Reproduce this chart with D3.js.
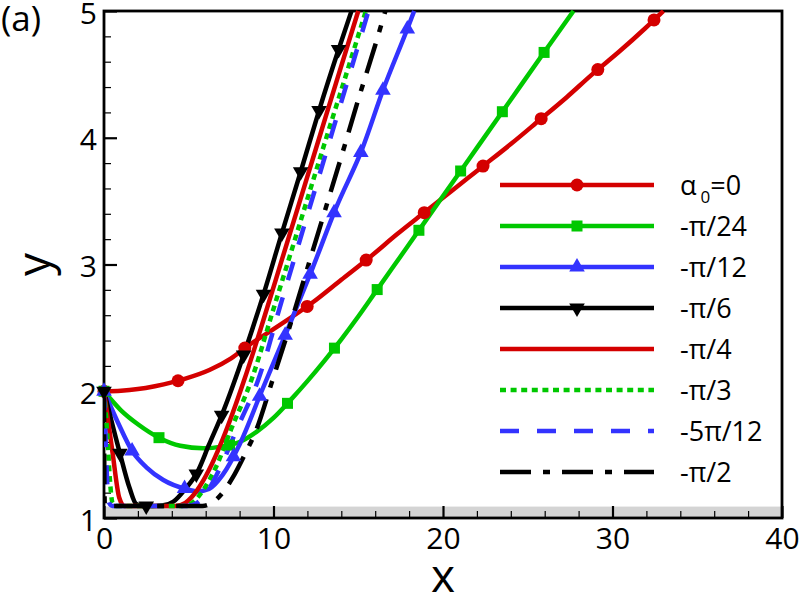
<!DOCTYPE html>
<html><head><meta charset="utf-8">
<script src="https://cdn.jsdelivr.net/npm/d3@7"></script>
<style>
body{margin:0;background:#fff}
svg{display:block}
text{font-family:"Open Sans",sans-serif;fill:#000}
</style>
</head><body>
<svg id="c" width="800" height="597"></svg>
<script>
// ---------- data ----------
const legendLabels = ["α0=0", "-π/24", "-π/12", "-π/6", "-π/4", "-π/3", "-5π/12", "-π/2"];
const xMajorTicks = [0, 10, 20, 30, 40];
const yMajorTicks = [1, 2, 3, 4, 5];
const xMinorTicks = [2, 4, 6, 8, 12, 14, 16, 18, 22, 24, 26, 28, 32, 34, 36, 38];
const yMinorTicks = [1.2, 1.4, 1.6, 1.8, 2.2, 2.4, 2.6, 2.8, 3.2, 3.4, 3.6, 3.8, 4.2, 4.4, 4.6, 4.8];
const wallBand = [1, 1.09];

const alpha0 = [[0,2.0],[1,2.004],[2,2.017],[3,2.04],[4,2.07],[4.8,2.10],[6.25,2.17],[7.5,2.26],[8.5,2.36],[10,2.49],[12.3,2.70],[14,2.88],[15.7,3.06],[17.3,3.24],[18.9,3.41],[20.6,3.59],[22.3,3.77],[24,3.95],[25.7,4.14],[27.3,4.32],[28.8,4.50],[30.4,4.68],[31.9,4.86],[33.0,5.0]];
const alphaPi24 = [[0,2.0],[1,1.85],[2,1.74],[3.3,1.63],[4.5,1.57],[5.85,1.55],[7,1.565],[8,1.60],[9,1.68],[10,1.79],[11,1.93],[12,2.08],[13,2.24],[14,2.41],[15,2.59],[16,2.78],[17,2.97],[18,3.16],[19,3.35],[20,3.54],[22,3.92],[24,4.30],[26,4.68],[27.7,5.0]];
const alphaPi12 = [[0,2.0],[0.8,1.76],[1.7,1.52],[2.5,1.40],[3.5,1.30],[4.8,1.23],[5.5,1.21],[6.2,1.23],[7,1.34],[8,1.58],[9.3,2.0],[10.9,2.51],[12.3,2.97],[13.7,3.45],[15.2,3.90],[16.5,4.39],[17.9,4.86],[18.3,5.0]];
const alphaPi6 = [[0,2.0],[0.94,1.51],[1.5,1.24],[1.9,1.11],[2.3,1.095],[3,1.095],[3.5,1.1],[4.1,1.13],[4.8,1.23],[5.5,1.36],[6.2,1.58],[7.0,1.83],[8.3,2.31],[9.4,2.76],[10.5,3.25],[11.6,3.73],[12.7,4.22],[13.8,4.68],[14.6,5.0]];
const alphaPi4 = [[0,2.0],[0.5,1.52],[0.9,1.16],[1.2,1.095],[4.2,1.095],[4.8,1.12],[5.5,1.22],[6.2,1.38],[7,1.62],[8.3,2.10],[9.4,2.56],[10.5,3.04],[11.6,3.52],[12.7,4.0],[13.8,4.48],[15.0,5.0]];
const alphaPi3 = [[0,2.0],[0.2,1.65],[0.35,1.3],[0.5,1.12],[0.7,1.095],[4.6,1.095],[5.2,1.12],[5.9,1.23],[6.6,1.40],[7.5,1.70],[8.7,2.09],[10,2.65],[11.5,3.3],[13,3.95],[14.5,4.59],[15.45,5.0]];
const alpha5Pi12 = [[0,2.0],[0.1,1.6],[0.2,1.25],[0.3,1.12],[0.5,1.095],[4.9,1.095],[5.5,1.12],[6.2,1.23],[6.9,1.41],[7.9,1.72],[9.1,2.09],[10.5,2.72],[12,3.39],[13.5,4.06],[15,4.73],[15.6,5.0]];
const alphaPi2 = [[0,2.0],[0.02,1.3],[0.05,1.095],[1,1.095],[5.8,1.095],[6.25,1.11],[7,1.2],[7.6,1.32],[8.3,1.50],[9.0,1.70],[9.9,2.07],[11,2.53],[12,2.97],[13,3.41],[14,3.85],[15,4.3],[16,4.73],[16.6,5.0]];

const seriesData = [alpha0, alphaPi24, alphaPi12, alphaPi6, alphaPi4, alphaPi3, alpha5Pi12, alphaPi2];

// ---------- styles ----------
const styles = [
  {color:"#d40000", dash:null, marker:"circle", spacing:75},
  {color:"#00c800", dash:null, marker:"square", spacing:72.5},
  {color:"#3333ff", dash:null, marker:"up", spacing:66},
  {color:"#000000", dash:null, marker:"down", spacing:64},
  {color:"#d40000", dash:null, marker:null},
  {color:"#00c800", dash:"6,4.6", marker:null},
  {color:"#3333ff", dash:"19,18", marker:null},
  {color:"#000000", dash:"31,12,7,12", marker:null}
];

const svg = d3.select("#c");
const M = {left:104, right:782, top:11, bottom:518};
const x = d3.scaleLinear().domain([0,40]).range([M.left, M.right]);
const y = d3.scaleLinear().domain([1,5]).range([M.bottom, M.top]);

svg.append("defs").append("clipPath").attr("id","clip")
  .append("rect").attr("x",M.left).attr("y",M.top-1).attr("width",M.right-M.left).attr("height",M.bottom-M.top+1);

// wall band
svg.append("rect")
  .attr("x", M.left).attr("y", y(wallBand[1]))
  .attr("width", M.right-M.left).attr("height", y(wallBand[0]) - y(wallBand[1]))
  .attr("fill", "#d4d4d4");

// axes
const xMaj = svg.append("g").attr("transform",`translate(0,${M.bottom})`)
  .call(d3.axisBottom(x).tickValues(xMajorTicks).tickSize(-12).tickPadding(10).tickFormat(d3.format("d")));
const xMin = svg.append("g").attr("transform",`translate(0,${M.bottom})`)
  .call(d3.axisBottom(x).tickValues(xMinorTicks).tickSize(-7).tickFormat(""));
const yMaj = svg.append("g").attr("transform",`translate(${M.left},0)`)
  .call(d3.axisLeft(y).tickValues(yMajorTicks).tickSize(-13).tickPadding(7).tickFormat(d3.format("d")));
const yMin = svg.append("g").attr("transform",`translate(${M.left},0)`)
  .call(d3.axisLeft(y).tickValues(yMinorTicks).tickSize(-7).tickFormat(""));
[xMaj,xMin,yMaj,yMin].forEach(g=>{ g.select(".domain").remove(); g.selectAll("text").style("font-size","30px").style("font-family","'Open Sans',sans-serif"); });
xMaj.selectAll("line").attr("stroke-width",2.2);
yMaj.selectAll("line").attr("stroke-width",2.2);
xMin.selectAll("line").attr("stroke-width",1.2);
yMin.selectAll("line").attr("stroke-width",1.2);
yMaj.selectAll("text").attr("dy","0.40em");

// frame
svg.append("rect").attr("x",M.left).attr("y",M.top).attr("width",M.right-M.left).attr("height",M.bottom-M.top)
  .attr("fill","none").attr("stroke","#000").attr("stroke-width",2.8);

// titles
svg.append("text").attr("x",x(20)).attr("y",592).attr("text-anchor","middle").style("font-size","46px").text("x");
svg.append("text").attr("transform",`translate(50,${(M.top+M.bottom)/2}) rotate(-90)`).attr("text-anchor","middle").style("font-size","46px").text("y");
svg.append("text").attr("x",1).attr("y",31).style("font-size","35px").text("(a)");

// marker drawing
function drawMarker(g, type, cx, cy, color){
  if(type==="circle"){
    g.append("circle").attr("cx",cx).attr("cy",cy).attr("r",6.5).attr("fill",color);
  } else if(type==="square"){
    g.append("rect").attr("x",cx-5.5).attr("y",cy-5.5).attr("width",11).attr("height",11).attr("fill",color);
  } else if(type==="up"){
    g.append("path").attr("d",`M${cx},${cy-9}L${cx+7.8},${cy+4.5}L${cx-7.8},${cy+4.5}Z`).attr("fill",color);
  } else if(type==="down"){
    g.append("path").attr("d",`M${cx},${cy+9}L${cx+7.8},${cy-4.5}L${cx-7.8},${cy-4.5}Z`).attr("fill",color);
  }
}

const line = d3.line().x(d=>x(d[0])).y(d=>y(d[1])).curve(d3.curveMonotoneX);
const lines = svg.append("g").attr("clip-path","url(#clip)");
const marks = svg.append("g");

seriesData.forEach((data,i)=>{
  const st = styles[i];
  const p = lines.append("path").datum(data).attr("d",line)
    .attr("fill","none").attr("stroke",st.color).attr("stroke-width",4.5)
    .attr("stroke-linejoin","round");
  if(st.dash) p.attr("stroke-dasharray",st.dash);
  if(st.marker){
    const node = p.node();
    const L = node.getTotalLength();
    for(let s=0; s<=L; s+=st.spacing){
      const pt = node.getPointAtLength(s);
      if(pt.y < M.top+4) continue;
      drawMarker(marks, st.marker, pt.x, pt.y, st.color);
    }
  }
});

// legend
const legY0 = 185, legDY = 41.0;
const leg = svg.append("g");
legendLabels.forEach((lab,i)=>{
  const st = styles[i];
  const cy = legY0 + i*legDY;
  const l = leg.append("line").attr("x1",500).attr("x2",654).attr("y1",cy).attr("y2",cy)
    .attr("stroke",st.color).attr("stroke-width",4.5);
  if(st.dash) l.attr("stroke-dasharray",st.dash);
  if(st.marker) drawMarker(leg, st.marker, 577, cy, st.color);
  const t = leg.append("text").attr("x",680).attr("y",cy+10).style("font-size","27px");
  if(lab.startsWith("α")){
    t.append("tspan").text("α");
    t.append("tspan").attr("dx",4).attr("dy",8).style("font-size","17px").text("0");
    t.append("tspan").attr("dy",-8).text("=0");
  } else {
    t.text(lab);
  }
});
</script>
</body></html>
